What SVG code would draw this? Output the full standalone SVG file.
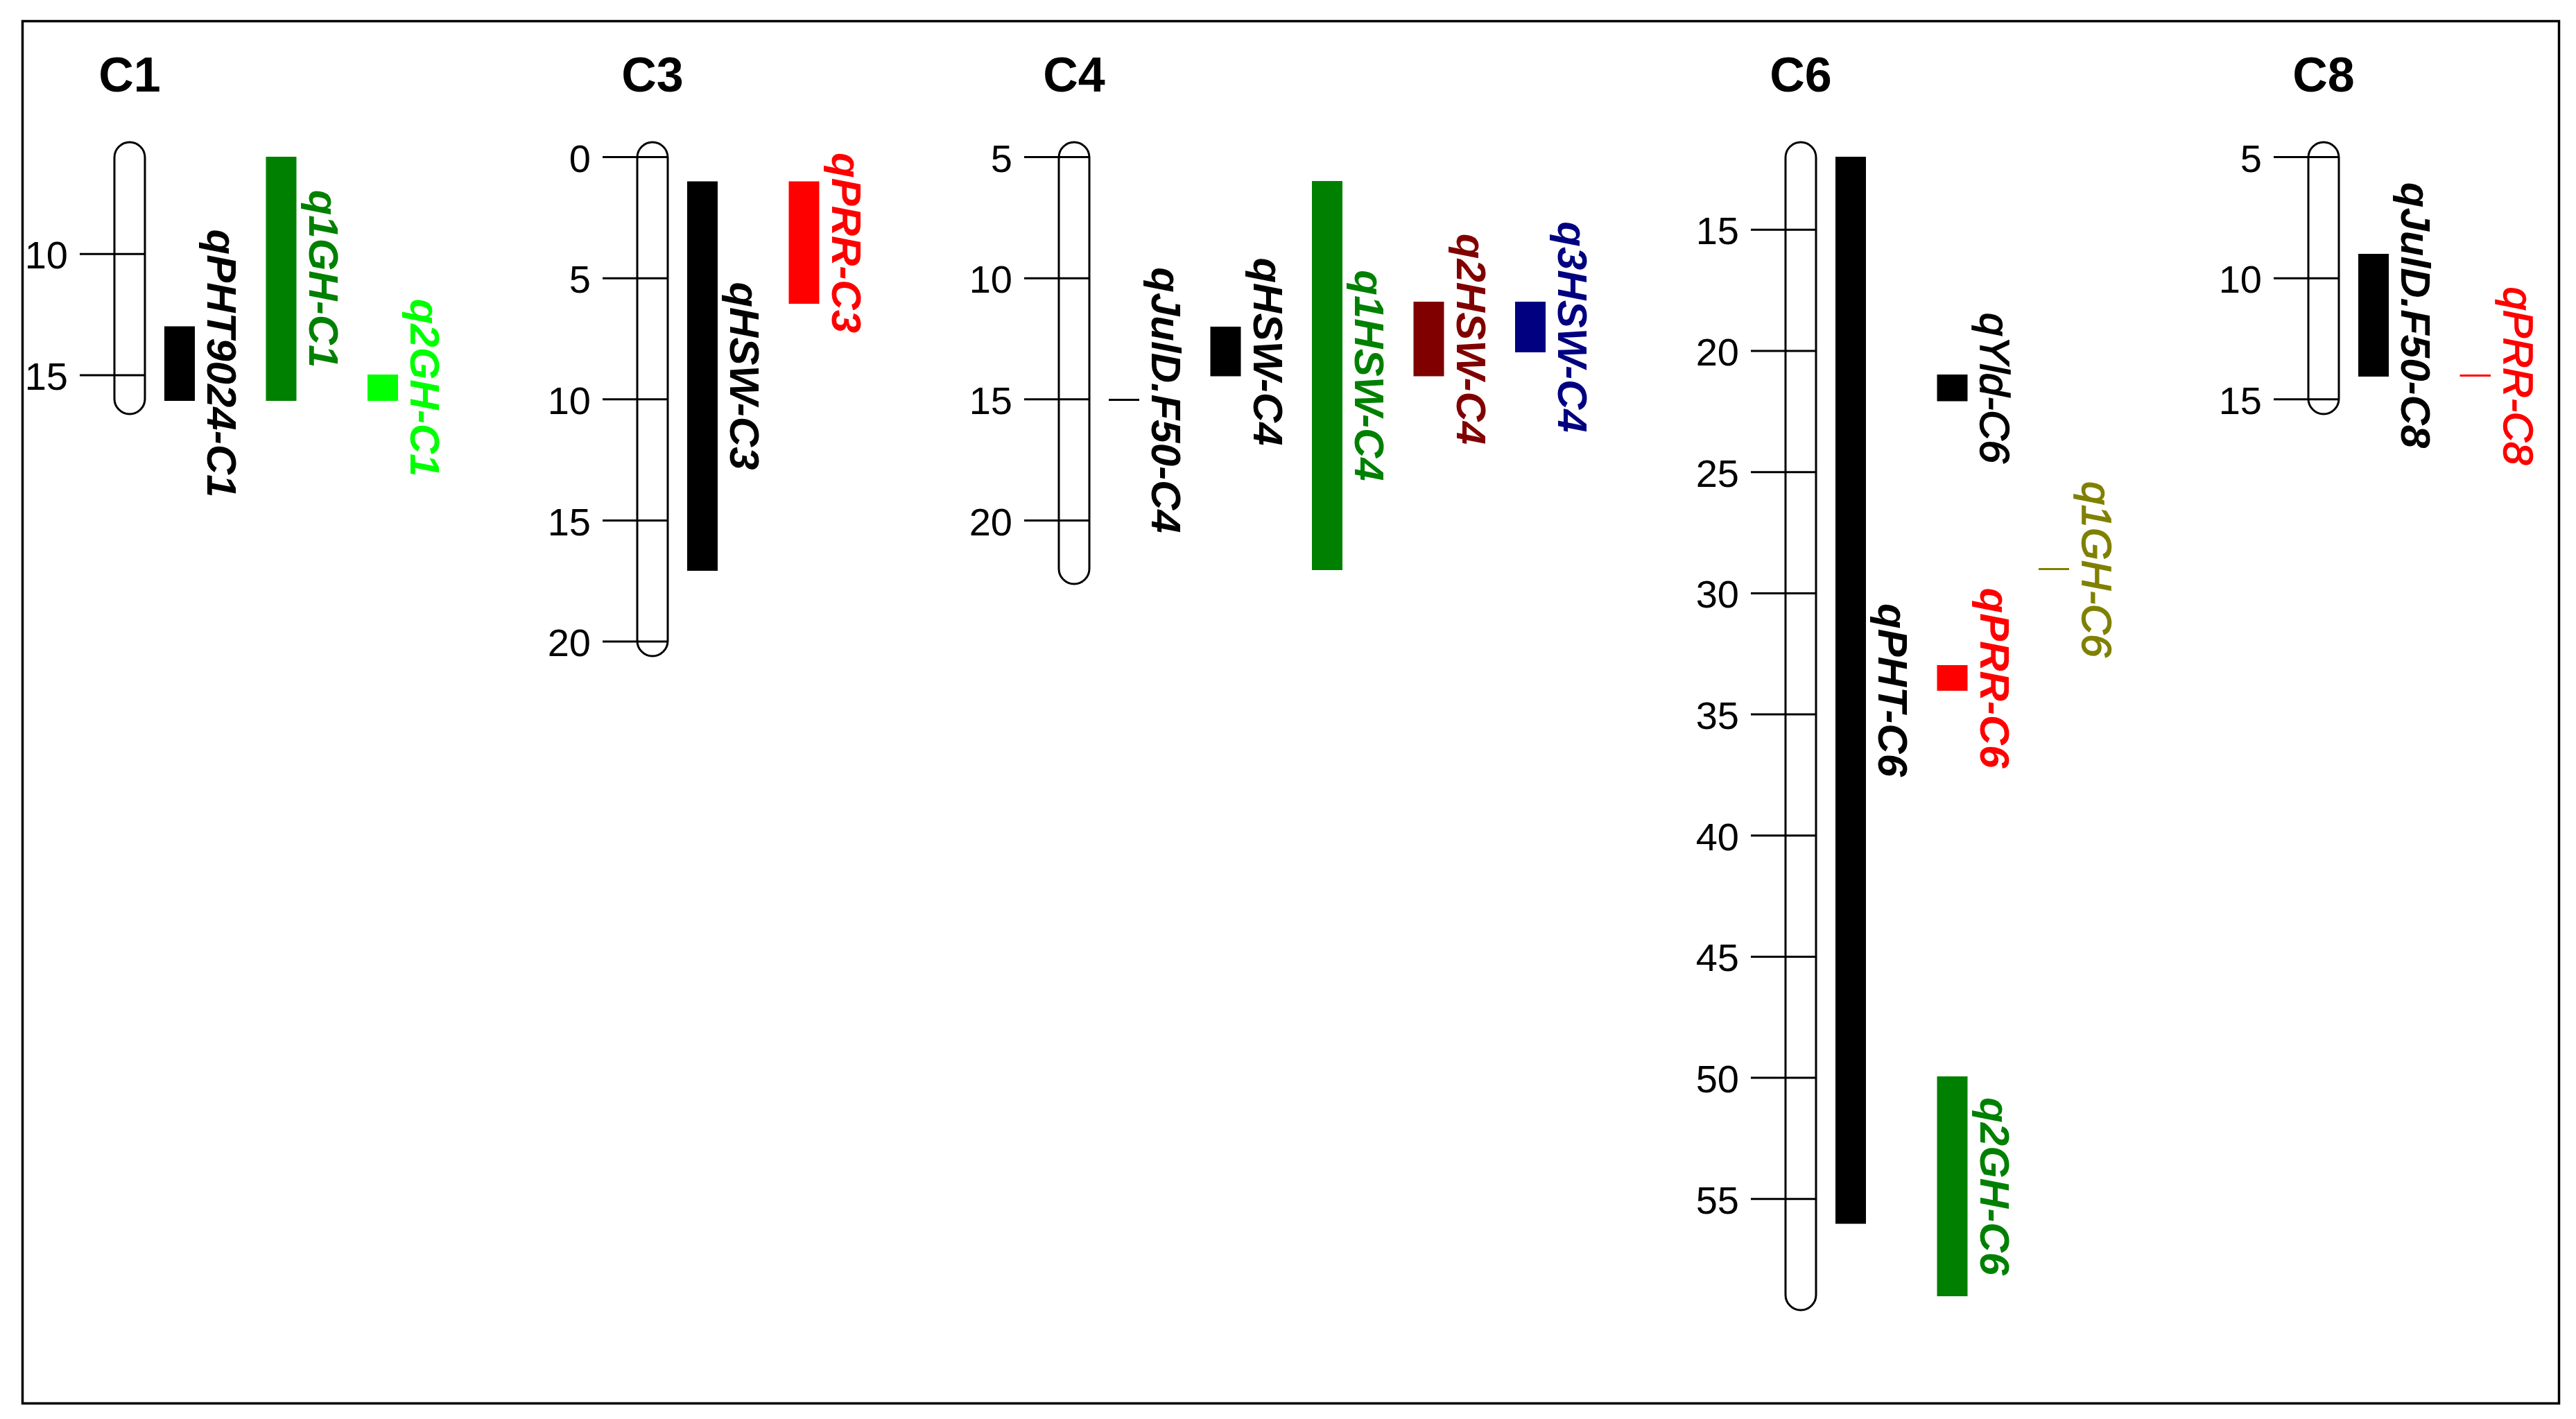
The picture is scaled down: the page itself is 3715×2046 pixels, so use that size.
<svg xmlns="http://www.w3.org/2000/svg" width="3715" height="2046" viewBox="0 0 3715 2046">
<style>
.frame{fill:none;stroke:#000;stroke-width:3.5}
.chr{fill:#fff;stroke:#000;stroke-width:3}
.tick{stroke:#000;stroke-width:3}
.title{font-family:"Liberation Sans",Arial,sans-serif;font-weight:bold;font-size:70px;text-anchor:middle;fill:#000}
.num{font-family:"Liberation Sans",Arial,sans-serif;font-size:56px;text-anchor:end;fill:#000}
.lab{font-family:"Liberation Sans",Arial,sans-serif;font-style:italic;font-weight:bold;font-size:60px;text-anchor:middle}
.reg{font-weight:normal;stroke-width:1.6}
.mk{stroke-width:3}
</style>
<rect width="3715" height="2046" fill="#fff"/>
<rect class="frame" x="32.5" y="30.5" width="3658" height="1993"/>

<g id="C1">
<text class="title" x="187" y="132">C1</text>
<rect class="chr" x="165" y="205" width="44" height="392" rx="22" ry="22"/>
<line class="tick" x1="115" y1="366.2" x2="209" y2="366.2"/><text class="num" x="98" y="387.2">10</text>
<line class="tick" x1="115" y1="540.9" x2="209" y2="540.9"/><text class="num" x="98" y="561.9">15</text>
</g>
<g id="qPHT9024-C1"><rect x="237" y="470.5" width="44" height="107.5" fill="#000"/><text class="lab" fill="#000" transform="translate(299,524) rotate(90)">qPHT9024-C1</text></g>
<g id="q1GH-C1"><rect x="383.5" y="226" width="44" height="352" fill="#008000"/><text class="lab" fill="#008000" transform="translate(445.5,402) rotate(90)">q1GH-C1</text></g>
<g id="q2GH-C1"><rect x="530" y="540" width="44" height="38" fill="#00ff00"/><text class="lab" fill="#00ff00" transform="translate(592,559) rotate(90)">q2GH-C1</text></g>

<g id="C3">
<text class="title" x="941" y="132">C3</text>
<rect class="chr" x="919" y="205" width="44" height="741" rx="22" ry="22"/>
<line class="tick" x1="869" y1="226.5" x2="963" y2="226.5"/><text class="num" x="852" y="247.5">0</text>
<line class="tick" x1="869" y1="401.2" x2="963" y2="401.2"/><text class="num" x="852" y="422.2">5</text>
<line class="tick" x1="869" y1="575.8" x2="963" y2="575.8"/><text class="num" x="852" y="596.8">10</text>
<line class="tick" x1="869" y1="750.5" x2="963" y2="750.5"/><text class="num" x="852" y="771.5">15</text>
<line class="tick" x1="869" y1="925.1" x2="963" y2="925.1"/><text class="num" x="852" y="946.1">20</text>
</g>
<g id="qHSW-C3"><rect x="991" y="261.5" width="44" height="561.5" fill="#000"/><text class="lab" fill="#000" transform="translate(1053,542) rotate(90)">qHSW-C3</text></g>
<g id="qPRR-C3"><rect x="1137.5" y="261.5" width="44" height="176.5" fill="#ff0000"/><text class="lab" fill="#ff0000" transform="translate(1199.5,350) rotate(90)">qPRR-C3</text></g>

<g id="C4">
<text class="title" x="1549" y="132">C4</text>
<rect class="chr" x="1527" y="205" width="44" height="637" rx="22" ry="22"/>
<line class="tick" x1="1477" y1="226.5" x2="1571" y2="226.5"/><text class="num" x="1460" y="247.5">5</text>
<line class="tick" x1="1477" y1="401.2" x2="1571" y2="401.2"/><text class="num" x="1460" y="422.2">10</text>
<line class="tick" x1="1477" y1="575.8" x2="1571" y2="575.8"/><text class="num" x="1460" y="596.8">15</text>
<line class="tick" x1="1477" y1="750.5" x2="1571" y2="750.5"/><text class="num" x="1460" y="771.5">20</text>
</g>
<g id="qJulD.F50-C4"><line class="mk" x1="1599" y1="576.5" x2="1643" y2="576.5" stroke="#000"/><text class="lab" fill="#000" transform="translate(1661,577) rotate(90)">qJulD.F50-C4</text></g>
<g id="qHSW-C4"><rect x="1745.5" y="471" width="44" height="71.5" fill="#000"/><text class="lab" fill="#000" transform="translate(1807.5,507) rotate(90)">qHSW-C4</text></g>
<g id="q1HSW-C4"><rect x="1892" y="261" width="44" height="561" fill="#008000"/><text class="lab" fill="#008000" transform="translate(1954,541.5) rotate(90)">q1HSW-C4</text></g>
<g id="q2HSW-C4"><rect x="2038.5" y="435" width="44" height="107.5" fill="#800000"/><text class="lab" fill="#800000" transform="translate(2100.5,489) rotate(90)">q2HSW-C4</text></g>
<g id="q3HSW-C4"><rect x="2185" y="435" width="44" height="73" fill="#000080"/><text class="lab" fill="#000080" transform="translate(2247,471.5) rotate(90)">q3HSW-C4</text></g>

<g id="C6">
<text class="title" x="2597" y="132">C6</text>
<rect class="chr" x="2575" y="205" width="44" height="1684" rx="22" ry="22"/>
<line class="tick" x1="2525" y1="331.3" x2="2619" y2="331.3"/><text class="num" x="2508" y="352.3">15</text>
<line class="tick" x1="2525" y1="506" x2="2619" y2="506"/><text class="num" x="2508" y="527">20</text>
<line class="tick" x1="2525" y1="680.7" x2="2619" y2="680.7"/><text class="num" x="2508" y="701.7">25</text>
<line class="tick" x1="2525" y1="855.4" x2="2619" y2="855.4"/><text class="num" x="2508" y="876.4">30</text>
<line class="tick" x1="2525" y1="1030" x2="2619" y2="1030"/><text class="num" x="2508" y="1051">35</text>
<line class="tick" x1="2525" y1="1204.7" x2="2619" y2="1204.7"/><text class="num" x="2508" y="1225.7">40</text>
<line class="tick" x1="2525" y1="1379.4" x2="2619" y2="1379.4"/><text class="num" x="2508" y="1400.4">45</text>
<line class="tick" x1="2525" y1="1554" x2="2619" y2="1554"/><text class="num" x="2508" y="1575">50</text>
<line class="tick" x1="2525" y1="1728.7" x2="2619" y2="1728.7"/><text class="num" x="2508" y="1749.7">55</text>
</g>
<g id="qPHT-C6"><rect x="2647" y="226" width="44" height="1538.5" fill="#000"/><text class="lab" fill="#000" transform="translate(2709,995) rotate(90)">qPHT-C6</text></g>
<g id="qYld-C6"><rect x="2793.5" y="540" width="44" height="38.5" fill="#000"/><text class="lab reg" fill="#000" stroke="#000" transform="translate(2856,559.5) rotate(90)">qYld-C6</text></g>
<g id="qPRR-C6"><rect x="2793.5" y="959" width="44" height="37" fill="#ff0000"/><text class="lab" fill="#ff0000" transform="translate(2855.5,977.5) rotate(90)">qPRR-C6</text></g>
<g id="q2GH-C6"><rect x="2793.5" y="1552" width="44" height="317" fill="#008000"/><text class="lab" fill="#008000" transform="translate(2855.5,1710.5) rotate(90)">q2GH-C6</text></g>
<g id="q1GH-C6"><line class="mk" x1="2940" y1="820.5" x2="2984" y2="820.5" stroke="#808000"/><text class="lab reg" fill="#808000" stroke="#808000" transform="translate(3003,821) rotate(90)">q1GH-C6</text></g>

<g id="C8">
<text class="title" x="3351" y="132">C8</text>
<rect class="chr" x="3329" y="205" width="44" height="392" rx="22" ry="22"/>
<line class="tick" x1="3279" y1="226.5" x2="3373" y2="226.5"/><text class="num" x="3262" y="247.5">5</text>
<line class="tick" x1="3279" y1="401.2" x2="3373" y2="401.2"/><text class="num" x="3262" y="422.2">10</text>
<line class="tick" x1="3279" y1="575.8" x2="3373" y2="575.8"/><text class="num" x="3262" y="596.8">15</text>
</g>
<g id="qJulD.F50-C8"><rect x="3401" y="366" width="44" height="177" fill="#000"/><text class="lab" fill="#000" transform="translate(3463,454.5) rotate(90)">qJulD.F50-C8</text></g>
<g id="qPRR-C8"><line class="mk" x1="3547.5" y1="541.5" x2="3592" y2="541.5" stroke="#ff0000"/><text class="lab reg" fill="#ff0000" stroke="#ff0000" transform="translate(3611,542) rotate(90)">qPRR-C8</text></g>

<g id="connectors"/>
</svg>
